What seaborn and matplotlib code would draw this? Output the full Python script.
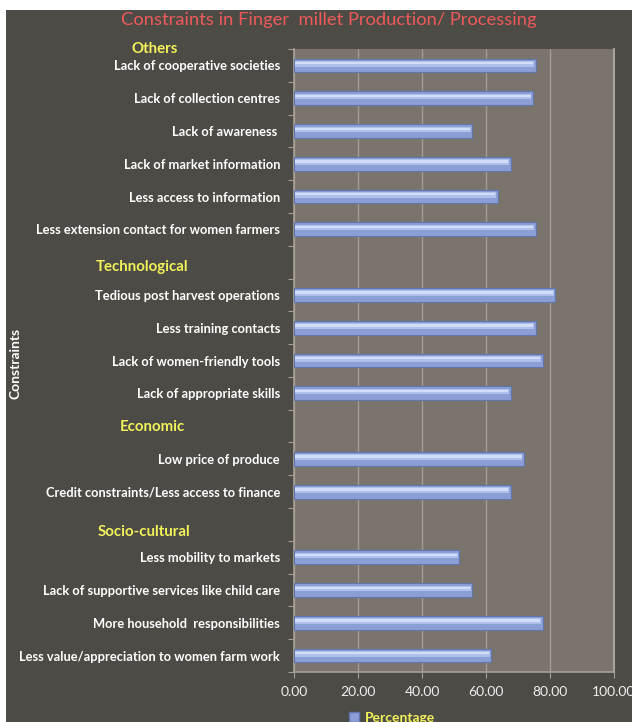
import matplotlib
matplotlib.use("Agg")
import matplotlib.pyplot as plt
from matplotlib.patches import Rectangle
import seaborn as sns
import pandas as pd
import numpy as np

# ---- data ----
constraints = [
    "Lack of cooperative societies",
    "Lack of collection centres",
    "Lack of awareness ",
    "Lack of market information",
    "Less access to information",
    "Less extension contact for women farmers",
    "",
    "Tedious post harvest operations",
    "Less training contacts",
    "Lack of women-friendly tools",
    "Lack of appropriate skills",
    " ",
    "Low price of produce",
    "Credit constraints/Less access to finance",
    "  ",
    "Less mobility to markets",
    "Lack of supportive services like child care",
    "More household  responsibilities",
    "Less value/appreciation to women farm work",
]
percentage = [75.5, 74.7, 55.7, 67.7, 63.6, 75.5, np.nan,
              81.7, 75.5, 77.7, 67.7, np.nan,
              71.8, 67.7, np.nan,
              51.7, 55.7, 77.7, 61.6]
group_headers = ["Others", "Technological", "Economic", "Socio-cultural"]
x_ticks = [0, 20, 40, 60, 80, 100]

df = pd.DataFrame({"Constraint": constraints, "Percentage": percentage})

BG = "#4d4b46"
PLOT_BG = "#7a746d"
GRID = "#a39d95"
YELLOW = "#f2f25a"
WHITE = "#ffffff"

sns.set_theme(style="white")
plt.rcParams["font.family"] = ["Lato", "DejaVu Sans"]

fig = plt.figure(figsize=(6.32, 7.22), dpi=100)
fig.patch.set_facecolor("white")
# dark chart background (white margin at top/left like reference)
bgrect = Rectangle((6 / 632, 0), 1, 1 - 10 / 722, transform=fig.transFigure,
                   facecolor=BG, edgecolor="none", zorder=-10)
fig.patches.append(bgrect)

ax = fig.add_axes([294 / 632, 1 - 672 / 722, 320 / 632, (672 - 49) / 722])
ax.set_zorder(5)
ax.set_facecolor(PLOT_BG)

sns.barplot(data=df, y="Constraint", x="Percentage", orient="h", ax=ax,
            color="#8b9fd6", width=0.42, edgecolor="#6176ad", linewidth=0.8,
            saturation=1, zorder=3)
# highlight stripe on each bar (glossy look)
ypos = np.arange(len(constraints))
vals = np.nan_to_num(np.array(percentage, dtype=float))
ax.barh(ypos - 0.05, np.where(vals > 0, vals - 0.8, 0), height=0.17, left=0.3,
        color="#afc0ec", edgecolor="none", zorder=4)
ax.barh(ypos - 0.07, np.where(vals > 0, vals - 1.0, 0), height=0.07, left=0.3,
        color="#d2ddf8", edgecolor="none", zorder=4)

ax.set_xlim(0, 100)
ax.set_ylim(len(constraints) - 0.5, -0.5)
ax.set_xticks(x_ticks)
ax.set_xticklabels([f"{v:.2f}" for v in x_ticks], color="#eeeeee", fontsize=10)
ax.tick_params(axis="x", length=4, width=0.8, color=GRID, pad=6, direction="out",
               bottom=True)

ax.set_yticks(ypos)
ax.set_yticklabels(constraints, color=WHITE, fontsize=9.3, fontweight="bold")
ax.tick_params(axis="y", length=0, pad=10)
ax.set_yticks(np.arange(len(constraints) + 1) - 0.5, minor=True)
ax.tick_params(axis="y", which="minor", length=4, width=0.8, color=GRID, left=True)

ax.grid(axis="x", color=GRID, linewidth=1.0, zorder=1)
ax.set_axisbelow(True)
ax.spines["top"].set_visible(False)
ax.spines["right"].set_color("#a8a39b")
ax.spines["right"].set_linewidth(1.5)
ax.spines["left"].set_color(GRID)
ax.spines["bottom"].set_color(GRID)

ax.set_xlabel("")
ax.set_ylabel("")

# title
fig.text(329 / 632, 1 - 20 / 722, "Constraints in Finger  millet Production/ Processing",
         color="#ee5a5a", fontsize=13.2, ha="center", va="center")

# group header labels
header_pos = [(155, 49), (142, 267), (152, 427), (144, 532)]
for name, (px, py) in zip(group_headers, header_pos):
    fig.text(px / 632, 1 - py / 722, name, color=YELLOW, fontsize=10.8,
             fontweight="bold", ha="center", va="center")

# axis title
fig.text(15 / 632, 1 - 363 / 722, "Constraints", color=WHITE, fontsize=10,
         fontweight="bold", rotation=90, ha="center", va="center")

# legend
handle = Rectangle((0, 0), 1, 1, facecolor="#8b9fd6", edgecolor="#6176ad")
leg = fig.legend([handle], ["Percentage"], loc="center", bbox_to_anchor=(392 / 632, 1 - 718 / 722),
                 frameon=False, fontsize=10, handlelength=0.7, handleheight=0.7,
                 handletextpad=0.4)
for t in leg.get_texts():
    t.set_color(YELLOW)
    t.set_fontweight("bold")

fig.savefig("out.png", dpi=100, facecolor=fig.get_facecolor())
